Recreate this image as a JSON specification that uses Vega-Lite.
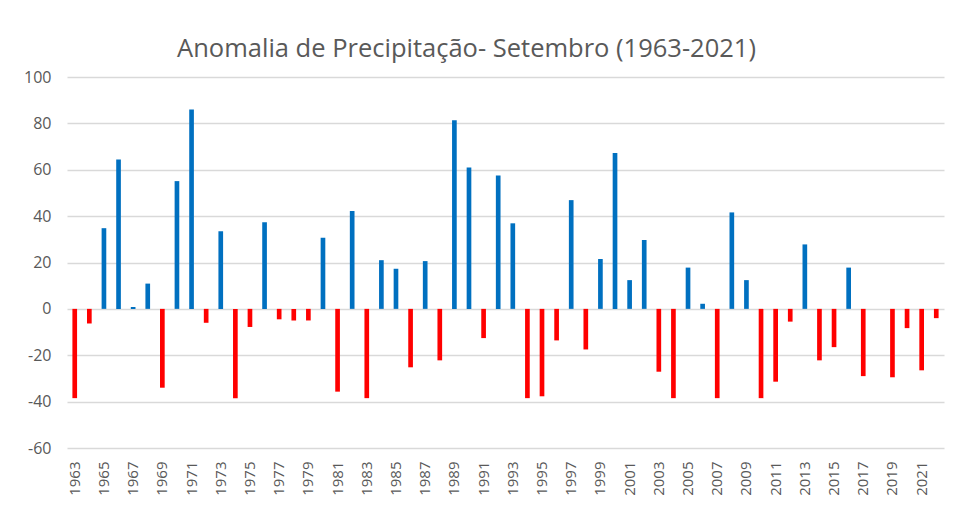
{
  "$schema": "https://vega.github.io/schema/vega-lite/v6.json",
  "autosize": {"type": "none"},
  "width": 877,
  "height": 371,
  "padding": {"left": 67, "top": 77, "right": 12, "bottom": 66},
  "background": "#ffffff",
  "title": {
    "text": "Anomalia de Precipitação- Setembro (1963-2021)",
    "font": "Open Sans",
    "fontSize": 25.5,
    "fontWeight": "normal",
    "color": "#595959",
    "anchor": "middle",
    "dx": -39,
    "offset": 7
  },
  "data": {
    "values": [
      {"ano": 1963, "anomalia": -38.5},
      {"ano": 1964, "anomalia": -6.3},
      {"ano": 1965, "anomalia": 34.8},
      {"ano": 1966, "anomalia": 64.4},
      {"ano": 1967, "anomalia": 0.8},
      {"ano": 1968, "anomalia": 10.9},
      {"ano": 1969, "anomalia": -34},
      {"ano": 1970, "anomalia": 55.1},
      {"ano": 1971, "anomalia": 86},
      {"ano": 1972, "anomalia": -6},
      {"ano": 1973, "anomalia": 33.5},
      {"ano": 1974, "anomalia": -38.5},
      {"ano": 1975, "anomalia": -7.8},
      {"ano": 1976, "anomalia": 37.4},
      {"ano": 1977, "anomalia": -4.5},
      {"ano": 1978, "anomalia": -5},
      {"ano": 1979, "anomalia": -5},
      {"ano": 1980, "anomalia": 30.7},
      {"ano": 1981, "anomalia": -35.7},
      {"ano": 1982, "anomalia": 42.2},
      {"ano": 1983, "anomalia": -38.5},
      {"ano": 1984, "anomalia": 21},
      {"ano": 1985, "anomalia": 17.3},
      {"ano": 1986, "anomalia": -25.2},
      {"ano": 1987, "anomalia": 20.6},
      {"ano": 1988, "anomalia": -22.2},
      {"ano": 1989, "anomalia": 81.3},
      {"ano": 1990, "anomalia": 61},
      {"ano": 1991, "anomalia": -12.6},
      {"ano": 1992, "anomalia": 57.5},
      {"ano": 1993, "anomalia": 36.9},
      {"ano": 1994, "anomalia": -38.5},
      {"ano": 1995, "anomalia": -37.7},
      {"ano": 1996, "anomalia": -13.6},
      {"ano": 1997, "anomalia": 46.9},
      {"ano": 1998, "anomalia": -17.5},
      {"ano": 1999, "anomalia": 21.5},
      {"ano": 2000, "anomalia": 67.2},
      {"ano": 2001, "anomalia": 12.4},
      {"ano": 2002, "anomalia": 29.7},
      {"ano": 2003, "anomalia": -27.1},
      {"ano": 2004, "anomalia": -38.5},
      {"ano": 2005, "anomalia": 17.8},
      {"ano": 2006, "anomalia": 2.2},
      {"ano": 2007, "anomalia": -38.5},
      {"ano": 2008, "anomalia": 41.6},
      {"ano": 2009, "anomalia": 12.4},
      {"ano": 2010, "anomalia": -38.5},
      {"ano": 2011, "anomalia": -31.4},
      {"ano": 2012, "anomalia": -5.5},
      {"ano": 2013, "anomalia": 27.8},
      {"ano": 2014, "anomalia": -22.2},
      {"ano": 2015, "anomalia": -16.5},
      {"ano": 2016, "anomalia": 17.8},
      {"ano": 2017, "anomalia": -29},
      {"ano": 2018, "anomalia": 0},
      {"ano": 2019, "anomalia": -29.5},
      {"ano": 2020, "anomalia": -8.3},
      {"ano": 2021, "anomalia": -26.5},
      {"ano": 2022, "anomalia": -4}
    ]
  },
  "mark": {"type": "bar"},
  "encoding": {
    "x": {
      "field": "ano",
      "type": "ordinal",
      "title": null,
      "scale": {"paddingInner": 0.68, "paddingOuter": 0.37},
      "axis": {
        "values": [1963,1965,1967,1969,1971,1973,1975,1977,1979,1981,1983,1985,1987,1989,1991,1993,1995,1997,1999,2001,2003,2005,2007,2009,2011,2013,2015,2017,2019,2021],
        "labelAngle": -90,
        "labelFont": "Open Sans",
        "labelFontSize": 15,
        "labelColor": "#595959",
        "labelPadding": 13,
        "ticks": false,
        "domain": false,
        "grid": false
      }
    },
    "y": {
      "field": "anomalia",
      "type": "quantitative",
      "title": null,
      "scale": {"domain": [-60, 100], "nice": false, "zero": true},
      "axis": {
        "values": [-60, -40, -20, 0, 20, 40, 60, 80, 100],
        "labelExpr": "'' + datum.value",
        "labelFont": "Open Sans",
        "labelFontSize": 16,
        "labelColor": "#595959",
        "labelPadding": 16,
        "ticks": false,
        "domain": false,
        "grid": true,
        "gridColor": "#d9d9d9",
        "gridWidth": 1.5
      }
    },
    "color": {
      "condition": {"test": "datum.anomalia < 0", "value": "#FF0000"},
      "value": "#0070C0"
    }
  },
  "config": {"view": {"stroke": null}}
}
